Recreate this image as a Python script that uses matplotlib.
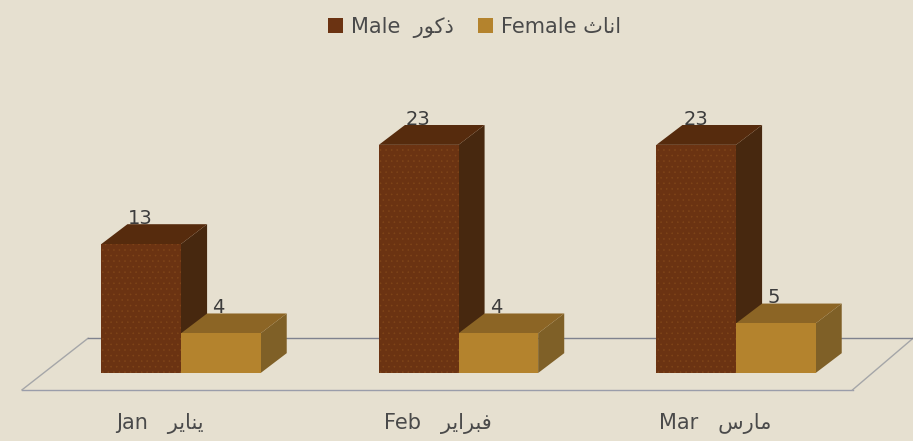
"""Monthly male / female counts as a fake 3D clustered bar chart."""
import matplotlib
matplotlib.use('Agg')
import matplotlib.pyplot as plt
from matplotlib.patches import Patch, Polygon

# presentation forms in visual order, matplotlib does no arabic shaping
months_en = ['Jan', 'Feb', 'Mar']
months_ar = ['\uFEAE\uFEF3\uFE8E\uFEE8\uFEF3',
             '\uFEAE\uFEF3\uFE8D\uFEAE\uFE92\uFED3',
             '\uFEB1\uFEAD\uFE8E\uFEE3']
male = [13, 23, 23]
female = [4, 4, 5]
male_label = 'Male  \uFEAD\uFEEE\uFEDB\uFEAB'
female_label = 'Female \uFE99\uFE8E\uFEE7\uFE8D'

BG = '#E6E0D0'
MALE_COLORS = ('#6B3312', '#562B0D', '#47280F')
FEMALE_COLORS = ('#B4832D', '#8C6525', '#7F6027')
TEXT = '#3C3C3C'
LINE = '#7F828E'

# one category = 277.5 px, one count = 9.92 px
BAR_W = 0.287
DEPTH_X = 0.094
DEPTH_Y = 2.0


def draw_bar(ax, x, value, colors, hatch=None):
    # side and top first, then the front face
    ax.add_patch(Polygon([(x + BAR_W, 0), (x + BAR_W + DEPTH_X, DEPTH_Y),
                          (x + BAR_W + DEPTH_X, value + DEPTH_Y), (x + BAR_W, value)],
                         facecolor=colors[2], edgecolor='none', zorder=3))
    ax.add_patch(Polygon([(x, value), (x + DEPTH_X, value + DEPTH_Y),
                          (x + BAR_W + DEPTH_X, value + DEPTH_Y), (x + BAR_W, value)],
                         facecolor=colors[1], edgecolor='none', zorder=3))
    ax.bar(x, value, BAR_W, align='edge', color=colors[0], hatch=hatch,
           edgecolor='#7F4519' if hatch else 'none', linewidth=0, zorder=3)


plt.rcParams['font.family'] = ['DejaVu Sans']
plt.rcParams['hatch.linewidth'] = 0.4

fig = plt.figure(figsize=(9.13, 4.41), dpi=100, facecolor=BG)
ax = fig.add_axes([0, 0, 1, 1], facecolor=BG)
ax.set_xlim(-181 / 277.5, 732 / 277.5)
ax.set_ylim(-68 / 9.92, 373 / 9.92)
ax.axis('off')

# floor of the 3D box
floor_y0 = -1.7
floor_y1 = 3.5
ax.plot([-0.573, 2.42], [floor_y0, floor_y0], color='#9A9DAA', lw=1, zorder=1)
ax.plot([2.42, 2.638], [floor_y0, floor_y1], color='#A5A6A8', lw=1, zorder=1)
ax.plot([-0.573, -0.335], [floor_y0, floor_y1], color='#A5A6A8', lw=1, zorder=1)
ax.plot([-0.335, 2.65], [floor_y1, floor_y1], color=LINE, lw=1, zorder=1)

for i in range(len(months_en)):
    draw_bar(ax, i - BAR_W, male[i], MALE_COLORS, hatch='...')
    draw_bar(ax, i, female[i], FEMALE_COLORS)
    ax.text(i - BAR_W / 2 - 0.002, male[i] + 2.6, str(male[i]), ha='center', va='center',
            fontsize=14, color=TEXT, zorder=5)
    ax.text(i + BAR_W / 2 - 0.008, female[i] + 2.6, str(female[i]), ha='center', va='center',
            fontsize=14, color=TEXT, zorder=5)
    ax.text(i - 0.076, -5.05, months_en[i] + '   ' + months_ar[i], ha='center', va='center',
            fontsize=15, color='#4A4A4A')

handles = [Patch(facecolor=MALE_COLORS[0]), Patch(facecolor=FEMALE_COLORS[0])]
fig.legend(handles, [male_label, female_label], ncol=2, loc='center', bbox_to_anchor=(0.52, 0.938),
           frameon=False, fontsize=15, labelcolor='#4A4A4A', handlelength=0.7, handleheight=0.7,
           handletextpad=0.4, columnspacing=1.15)

fig.savefig('out.png', dpi=100, facecolor=BG)
